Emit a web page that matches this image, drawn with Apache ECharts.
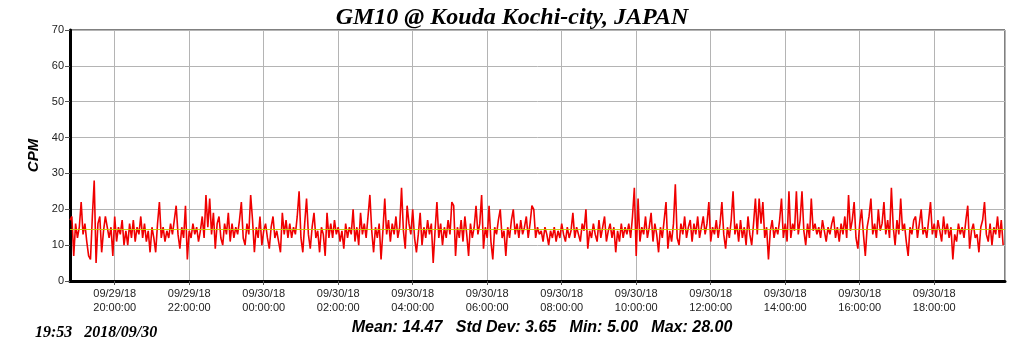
<!DOCTYPE html>
<html>
<head>
<meta charset="utf-8">
<script src="https://cdn.jsdelivr.net/npm/echarts@6/dist/echarts.min.js"></script>
<style>
html, body { margin: 0; padding: 0; background: #fff; }
#chart { width: 1024px; height: 351px; }
</style>
</head>
<body>
<div id="chart"></div>
<script>
// CPM readings, one every 3 minutes, starting 09/29/18 18:48
const START = new Date(2018, 8, 29, 18, 48).getTime();
const STEP_MS = 3 * 60 * 1000;
const AXIS_MIN = new Date(2018, 8, 29, 18, 48).getTime();
const AXIS_MAX = new Date(2018, 8, 30, 19, 54).getTime();

const cpm = [
    17, 18, 7, 16, 12, 15, 22, 13, 16, 11, 7, 6, 18, 28, 5, 16, 18, 8, 14, 18,
    18, 12, 15, 7, 18, 11, 15, 13, 17, 10, 14, 10, 16, 12, 17, 11, 15, 13, 18, 12,
    16, 11, 14, 8, 15, 12, 8, 16, 22, 12, 15, 11, 14, 12, 16, 13, 17, 21, 13, 9,
    15, 12, 21, 6, 14, 12, 16, 13, 15, 11, 14, 18, 12, 24, 15, 23, 13, 19, 9, 16,
    18, 12, 10, 16, 13, 19, 11, 16, 12, 15, 13, 17, 22, 12, 10, 16, 13, 24, 17, 8,
    15, 12, 18, 10, 14, 16, 12, 9, 15, 18, 12, 14, 11, 8, 19, 13, 17, 12, 16, 12,
    15, 13, 18, 25, 12, 8, 16, 23, 13, 9, 15, 19, 12, 14, 8, 15, 13, 7, 19, 12,
    16, 12, 17, 13, 15, 11, 14, 9, 16, 12, 15, 13, 20, 11, 15, 10, 19, 13, 16, 12,
    18, 24, 14, 8, 15, 12, 16, 6, 14, 23, 13, 17, 11, 16, 13, 18, 12, 15, 26, 14,
    9, 21, 16, 13, 20, 12, 8, 13, 19, 10, 15, 12, 17, 13, 16, 5, 14, 22, 12, 16,
    10, 15, 12, 17, 13, 22, 21, 7, 15, 12, 17, 11, 18, 13, 7, 16, 12, 15, 21, 13,
    16, 24, 9, 15, 12, 21, 11, 6, 15, 13, 17, 20, 12, 14, 7, 15, 12, 17, 20, 13,
    16, 12, 17, 13, 15, 18, 12, 16, 21, 20, 12, 15, 13, 14, 11, 15, 13, 10, 14, 12,
    15, 11, 14, 12, 16, 13, 11, 15, 12, 14, 19, 12, 15, 13, 11, 16, 14, 20, 9, 14,
    12, 16, 13, 11, 17, 12, 15, 18, 11, 14, 16, 12, 15, 8, 14, 11, 16, 12, 15, 13,
    16, 12, 18, 26, 7, 23, 11, 15, 13, 18, 12, 15, 19, 11, 16, 13, 8, 15, 12, 17,
    22, 9, 14, 11, 16, 27, 12, 10, 16, 13, 18, 12, 15, 17, 11, 16, 13, 18, 12, 15,
    18, 13, 16, 22, 11, 15, 13, 17, 12, 16, 22, 13, 9, 15, 12, 17, 25, 13, 16, 11,
    17, 12, 15, 10, 18, 13, 10, 16, 23, 13, 23, 16, 22, 12, 15, 6, 14, 17, 12, 15,
    13, 17, 23, 12, 16, 11, 25, 12, 16, 14, 25, 13, 17, 25, 14, 10, 16, 12, 23, 14,
    16, 13, 15, 12, 17, 14, 11, 15, 13, 16, 18, 12, 15, 11, 16, 13, 18, 12, 24, 14,
    17, 22, 12, 9, 16, 20, 13, 7, 15, 18, 23, 13, 16, 12, 20, 14, 16, 22, 13, 17,
    12, 26, 15, 10, 17, 13, 23, 14, 16, 11, 7, 15, 13, 17, 18, 12, 16, 20, 13, 15,
    12, 17, 22, 13, 16, 12, 17, 14, 11, 18, 13, 16, 12, 15, 6, 13, 11, 16, 13, 15,
    12, 17, 21, 9, 14, 16, 12, 13, 8, 15, 17, 22, 13, 11, 16, 10, 15, 13, 18, 12,
    17, 10
];

const MEAN = 14.47;
const titleText = 'GM10 @ Kouda Kochi-city, JAPAN';
const stampText = '19:53   2018/09/30';
const statsText = 'Mean: 14.47   Std Dev: 3.65   Min: 5.00   Max: 28.00';
const yTicks = { min: 0, max: 70, interval: 10 };
// a bit over 2h so the time scale settles on 2-hour steps
const X_STEP = 2.5 * 3600 * 1000;

function pad(n) { return n < 10 ? '0' + n : '' + n; }

let seriesData = cpm.map(function (v, i) { return [START + i * STEP_MS, v]; });

let myChart = echarts.init(document.getElementById('chart'), null, { renderer: 'canvas' });

let option = {
    animation: false,
    backgroundColor: '#ffffff',
    title: [{
        text: titleText,
        left: 'center',
        top: 1,
        textStyle: {
            fontFamily: 'Liberation Serif',
            fontStyle: 'italic',
            fontWeight: 'bold',
            fontSize: 24,
            color: '#000'
        }
    }, {
        text: stampText,
        left: 30,
        top: 320,
        textStyle: {
            fontFamily: 'Liberation Serif',
            fontStyle: 'italic',
            fontWeight: 'bold',
            fontSize: 16,
            color: '#000'
        }
    }, {
        text: statsText,
        left: 537,
        textAlign: 'center',
        top: 315,
        textStyle: {
            fontFamily: 'Liberation Sans',
            fontStyle: 'italic',
            fontWeight: 'bold',
            fontSize: 16,
            color: '#000'
        }
    }],
    grid: {
        left: 70,
        right: 19,
        top: 30,
        bottom: 70,
        show: true,
        borderColor: '#000',
        borderWidth: 1,
        backgroundColor: '#fff'
    },
    xAxis: {
        type: 'time',
        min: AXIS_MIN,
        max: AXIS_MAX,
        minInterval: X_STEP,
        maxInterval: X_STEP,
        axisLine: { show: true, onZero: false, lineStyle: { color: '#000', width: 3 } },
        axisTick: { show: true, length: 4, lineStyle: { color: '#555', width: 1 } },
        splitLine: { show: true, lineStyle: { color: '#b4b4b4', width: 1 } },
        axisLabel: {
            showMinLabel: false,
            showMaxLabel: false,
            color: '#222',
            fontFamily: 'Liberation Sans',
            fontSize: 11,
            lineHeight: 14,
            margin: 6,
            formatter: function (val) {
                let d = new Date(val);
                return pad(d.getMonth() + 1) + '/' + pad(d.getDate()) + '/' + pad(d.getFullYear() % 100) +
                    '\n' + pad(d.getHours()) + ':' + pad(d.getMinutes()) + ':' + pad(d.getSeconds());
            }
        }
    },
    yAxis: {
        type: 'value',
        min: yTicks.min,
        max: yTicks.max,
        interval: yTicks.interval,
        name: 'CPM',
        nameLocation: 'middle',
        nameGap: 26,
        nameTextStyle: {
            fontFamily: 'Liberation Sans',
            fontStyle: 'italic',
            fontWeight: 'bold',
            fontSize: 15,
            color: '#000'
        },
        axisLine: { show: true, lineStyle: { color: '#000', width: 3 } },
        axisTick: { show: true, length: 5, lineStyle: { color: '#555', width: 1 } },
        splitLine: { show: true, lineStyle: { color: '#b4b4b4', width: 1 } },
        axisLabel: {
            color: '#222',
            fontFamily: 'Liberation Sans',
            fontSize: 11,
            margin: 6
        }
    },
    series: [{
        type: 'line',
        data: seriesData,
        showSymbol: false,
        symbol: 'none',
        lineStyle: { color: '#f00000', width: 1.6 },
        markLine: {
            silent: true,
            symbol: 'none',
            label: { show: false },
            lineStyle: { color: '#c8c800', width: 1, type: 'solid', opacity: 0.9 },
            data: [{ yAxis: MEAN }]
        }
    }]
};

myChart.setOption(option);
</script>
</body>
</html>
